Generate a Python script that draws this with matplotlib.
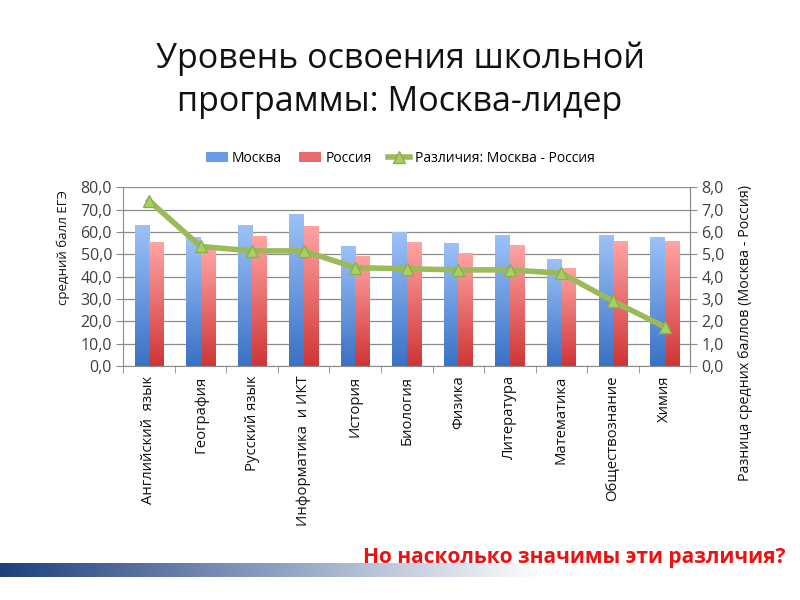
import numpy as np
import matplotlib
matplotlib.use('Agg')
import matplotlib.pyplot as plt
from matplotlib.lines import Line2D
from matplotlib.patches import Patch
from matplotlib.ticker import FuncFormatter, MultipleLocator

plt.rcParams['font.family'] = ['Open Sans', 'DejaVu Sans']

subjects = ['Английский  язык', 'География', 'Русский язык', 'Информатика  и ИКТ',
            'История', 'Биология', 'Физика', 'Литература', 'Математика',
            'Обществознание', 'Химия']
moscow = [62.7, 57.5, 63.0, 67.6, 53.4, 59.6, 54.6, 58.3, 47.8, 58.6, 57.5]
russia = [55.3, 52.2, 57.9, 62.4, 49.0, 55.2, 50.3, 54.0, 43.7, 55.7, 55.8]
diff = [7.4, 5.35, 5.15, 5.15, 4.4, 4.35, 4.3, 4.3, 4.15, 2.9, 1.75]

title = 'Уровень освоения школьной\nпрограммы: Москва-лидер'
note = 'Но насколько значимы эти различия?'


def comma_fmt(v, pos):
    return f'{v:.1f}'.replace('.', ',')


def gradient_bars(ax, bars, top_color, bottom_color):
    grad = np.linspace(0, 1, 64).reshape(-1, 1)
    cmap = matplotlib.colors.LinearSegmentedColormap.from_list('g', [bottom_color, top_color])
    for b in bars:
        x0, y0 = b.get_x(), b.get_y()
        w, h = b.get_width(), b.get_height()
        b.set_visible(False)
        ax.imshow(grad, extent=[x0, x0 + w, y0, y0 + h], origin='lower',
                  cmap=cmap, aspect='auto', zorder=2, interpolation='bicubic')


fig = plt.figure(figsize=(8, 6), dpi=100)
ax = fig.add_axes([0.154, 0.39, 0.709, 0.298])

x = np.arange(len(subjects))
w = 0.28
b1 = ax.bar(x - w / 2, moscow, w, color='#5b8fde')
b2 = ax.bar(x + w / 2, russia, w, color='#e05555')
gradient_bars(ax, b1, '#9cc1f7', '#3a72c6')
gradient_bars(ax, b2, '#ffa3a3', '#d03636')

ax.set_xlim(-0.5, len(subjects) - 0.5)
ax.set_ylim(0, 80)
ax.yaxis.set_major_locator(MultipleLocator(10))
ax.yaxis.set_major_formatter(FuncFormatter(comma_fmt))
ax.grid(axis='y', color='#8c8c8c', linewidth=0.9, zorder=0)
ax.set_axisbelow(True)

ax.set_xticks(x)
ax.set_xticklabels(subjects, rotation=90, va='top', fontsize=10.7, color='#111111')
ax.tick_params(axis='x', length=0, pad=7)
ax.set_xticks(np.arange(-0.5, len(subjects)), minor=True)
ax.tick_params(axis='x', which='minor', length=5, color='#8c8c8c')
ax.tick_params(axis='y', length=5, color='#8c8c8c', labelsize=11.5, labelcolor='#404040', pad=3)
ax.spines['top'].set_visible(False)
for s in ['left', 'right', 'bottom']:
    ax.spines[s].set_color('#8c8c8c')

ax2 = ax.twinx()
ax2.set_ylim(0, 8)
ax2.yaxis.set_major_locator(MultipleLocator(1))
ax2.yaxis.set_major_formatter(FuncFormatter(comma_fmt))
ax2.tick_params(axis='y', length=5, color='#8c8c8c', labelsize=11.5, labelcolor='#404040', pad=3)
for s in ['top', 'left', 'bottom']:
    ax2.spines[s].set_visible(False)
ax2.spines['right'].set_color('#8c8c8c')
ax2.plot(x, diff, color='#9bbb59', linewidth=4, marker='^', markersize=9,
         markerfacecolor='#a9d065', markeredgecolor='#8cb04a', markeredgewidth=1, zorder=5)

fig.text(0.5, 0.866, title, ha='center', va='center', fontsize=24.5,
         linespacing=1.35, color='#111111')

fig.text(0.079, 0.588, 'средний балл ЕГЭ', rotation=90, ha='center', va='center',
         fontsize=9.5, color='#111111')
fig.text(0.932, 1 - 185 / 600, 'Разница средних баллов (Москва - Россия)', rotation=90,
         ha='center', va='top', fontsize=10.3, color='#111111')

handles = [Patch(facecolor='#6a9be6', edgecolor='none'),
           Patch(facecolor='#ea6b6b', edgecolor='none'),
           Line2D([], [], color='#9bbb59', linewidth=4, marker='^', markersize=8,
                  markerfacecolor='#a9d065', markeredgecolor='#8cb04a')]
fig.legend(handles, ['Москва', 'Россия', 'Различия: Москва - Россия'],
           loc='center', bbox_to_anchor=(0.5, 1 - 158 / 600), ncol=3, frameon=False,
           fontsize=10, handlelength=1.6, handletextpad=0.3, columnspacing=1.2)

# decorative gradient strip at the bottom of the slide
strip = fig.add_axes([0, 1 - 577 / 600, 0.68, 14 / 600])
strip.imshow(np.linspace(0, 1, 256).reshape(1, -1), aspect='auto',
             cmap=matplotlib.colors.LinearSegmentedColormap.from_list(
                 's', ['#1f3f7c', '#8c9fc0', '#ffffff']))
strip.axis('off')

fig.text(0.982, 1 - 558 / 600, note, ha='right', va='center', fontsize=15,
         fontweight='bold', color='#ee1111')

fig.savefig('out.png', dpi=100)
